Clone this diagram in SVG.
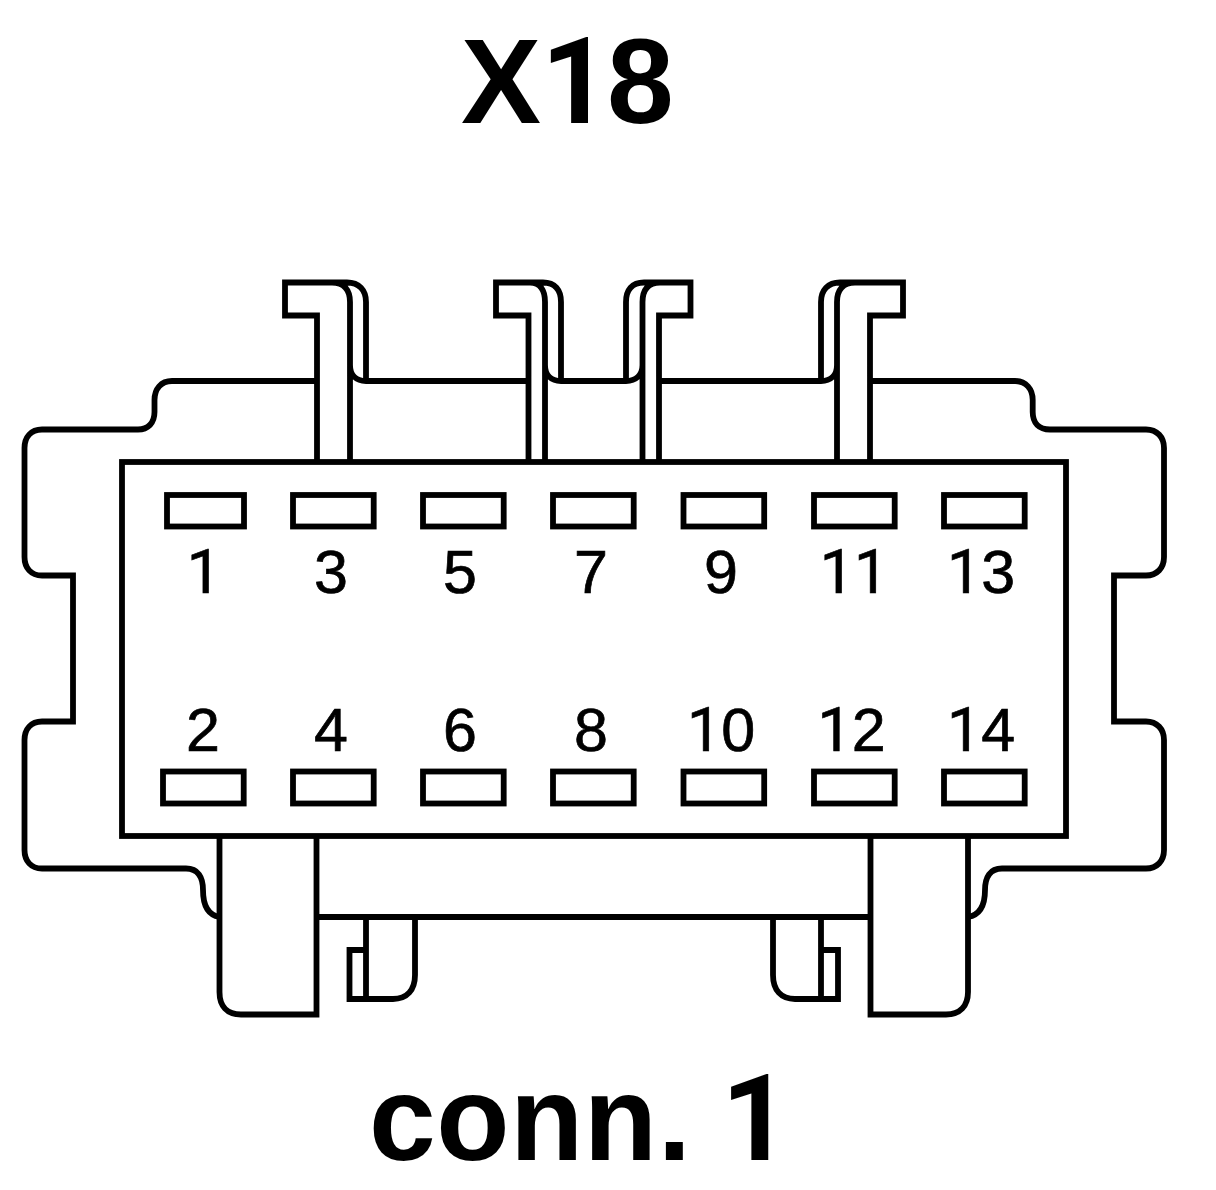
<svg xmlns="http://www.w3.org/2000/svg" width="1216" height="1190" viewBox="0 0 1216 1190">
<style>
.l{fill:none;stroke:#000;stroke-width:5.8;stroke-linejoin:miter}
.n{font-family:"Liberation Sans",Arial,sans-serif;font-size:61px;text-anchor:middle;fill:#000;stroke:#000;stroke-width:.7}
.t{font-family:"Liberation Sans",Arial,sans-serif;font-weight:bold;font-size:120px;fill:#000}
.r{font-family:Roboto,"Liberation Sans",sans-serif}
</style>
<rect width="1216" height="1190" fill="#fff"/>
<text class="t" x="461" y="122.500">X<tspan class="r">1</tspan><tspan dx="-3">8</tspan></text>
<g id="housing">
<path class="l" d="M219.500 917C208 915 203 905 203 890C203 877 198 868.500 186 868.500H42C31 868.500 24.500 861 24.500 850V740C24.500 729 31 721.500 42 721.500H73V575.500H42C31 575.500 24.500 568 24.500 557V448C24.500 437 31 429.500 42 429.500H138C148 429.500 154.500 423 154.500 412V400C154.500 389 161 381 172 381H317M366 381H528.500M561 381H626M659 381H821M870 381H1015C1026 381 1032.700 389 1032.700 400V412C1032.700 423 1039 429.500 1050 429.500H1146C1157 429.500 1164 437 1164 448V557C1164 568 1157 575.500 1146 575.500H1114V721.500H1146C1157 721.500 1164 729 1164 740V850C1164 861 1157 868.500 1146 868.500H1002C990 868.500 985 877 985 890C985 905 980 915 968 917"/>
<path class="l" d="M316.500 917H870.500"/>
</g>
<g id="tab-1"><path class="l" d="M317 462V315.500H285V282.500H347C359 282.500 366 290 366 302V381M366 381C356 381 350 375 350 365M350 462V302C350 290 344 282.500 332 282.500"/></g>
<g id="tab-2"><path class="l" d="M528.500 462V315.500H496V282.500H543C555 282.500 561 290 561 302V381M561 381C551 381 545 375 545 365M545 462V302C545 290 540 282.500 530 282.500"/></g>
<g id="tab-3"><path class="l" d="M659 462V315.500H690.500V282.500H644C632 282.500 626 290 626 302V381M626 381C636 381 642.500 375 642.500 365M642.500 462V302C642.500 290 648 282.500 660 282.500"/></g>
<g id="tab-4"><path class="l" d="M870 462V315.500H903V282.500H840C828 282.500 821 290 821 302V381M821 381C831 381 837 375 837 365M837 462V302C837 290 843 282.500 855 282.500"/></g>
<g id="latch-left">
<path class="l" d="M219.500 836V992C219.500 1006 227 1014.500 241 1014.500H316.500V836"/>
<path class="l" d="M415 917V975C415 990 407 999 393 999H349.500V950H366M366 917V999"/>
</g>
<g id="latch-right">
<path class="l" d="M968 836V992C968 1006 960 1014.500 946 1014.500H870.500V836"/>
<path class="l" d="M773 917V975C773 990 781 999 795 999H838V950H821M821 917V999"/>
</g>
<g id="body"><rect class="l" x="122" y="462" width="944" height="374"/></g>
<g id="pin-1"><rect class="l" x="167" y="495" width="77" height="31.500"/><text class="n" x="204" y="592.700"><tspan class="r">1</tspan></text></g>
<g id="pin-3"><rect class="l" x="293" y="495" width="80.700" height="31.500"/><text class="n" x="331" y="592.700">3</text></g>
<g id="pin-5"><rect class="l" x="423" y="495" width="80.700" height="31.500"/><text class="n" x="460" y="592.700">5</text></g>
<g id="pin-7"><rect class="l" x="553" y="495" width="80.700" height="31.500"/><text class="n" x="591" y="592.700">7</text></g>
<g id="pin-9"><rect class="l" x="683.500" y="495" width="80.700" height="31.500"/><text class="n" x="721" y="592.700">9</text></g>
<g id="pin-11"><rect class="l" x="814" y="495" width="80.700" height="31.500"/><text class="n" x="854" y="592.700"><tspan class="r">11</tspan></text></g>
<g id="pin-13"><rect class="l" x="944" y="495" width="80.700" height="31.500"/><text class="n" x="981" y="592.700"><tspan class="r">1</tspan>3</text></g>
<g id="pin-2"><rect class="l" x="163" y="771.500" width="80.700" height="32"/><text class="n" x="203" y="750.700">2</text></g>
<g id="pin-4"><rect class="l" x="293" y="771.500" width="80.700" height="32"/><text class="n" x="331" y="750.700">4</text></g>
<g id="pin-6"><rect class="l" x="423" y="771.500" width="80.700" height="32"/><text class="n" x="460" y="750.700">6</text></g>
<g id="pin-8"><rect class="l" x="553" y="771.500" width="80.700" height="32"/><text class="n" x="591" y="750.700">8</text></g>
<g id="pin-10"><rect class="l" x="683.500" y="771.500" width="80.700" height="32"/><text class="n" x="721" y="750.700"><tspan class="r">1</tspan>0</text></g>
<g id="pin-12"><rect class="l" x="814" y="771.500" width="80.700" height="32"/><text class="n" x="851.500" y="750.700"><tspan class="r">1</tspan>2</text></g>
<g id="pin-14"><rect class="l" x="944" y="771.500" width="80.700" height="32"/><text class="n" x="981" y="750.700"><tspan class="r">1</tspan>4</text></g>
<text class="t" x="369" y="1160" letter-spacing=".5">conn. <tspan class="r" dx="-4">1</tspan></text>
</svg>
